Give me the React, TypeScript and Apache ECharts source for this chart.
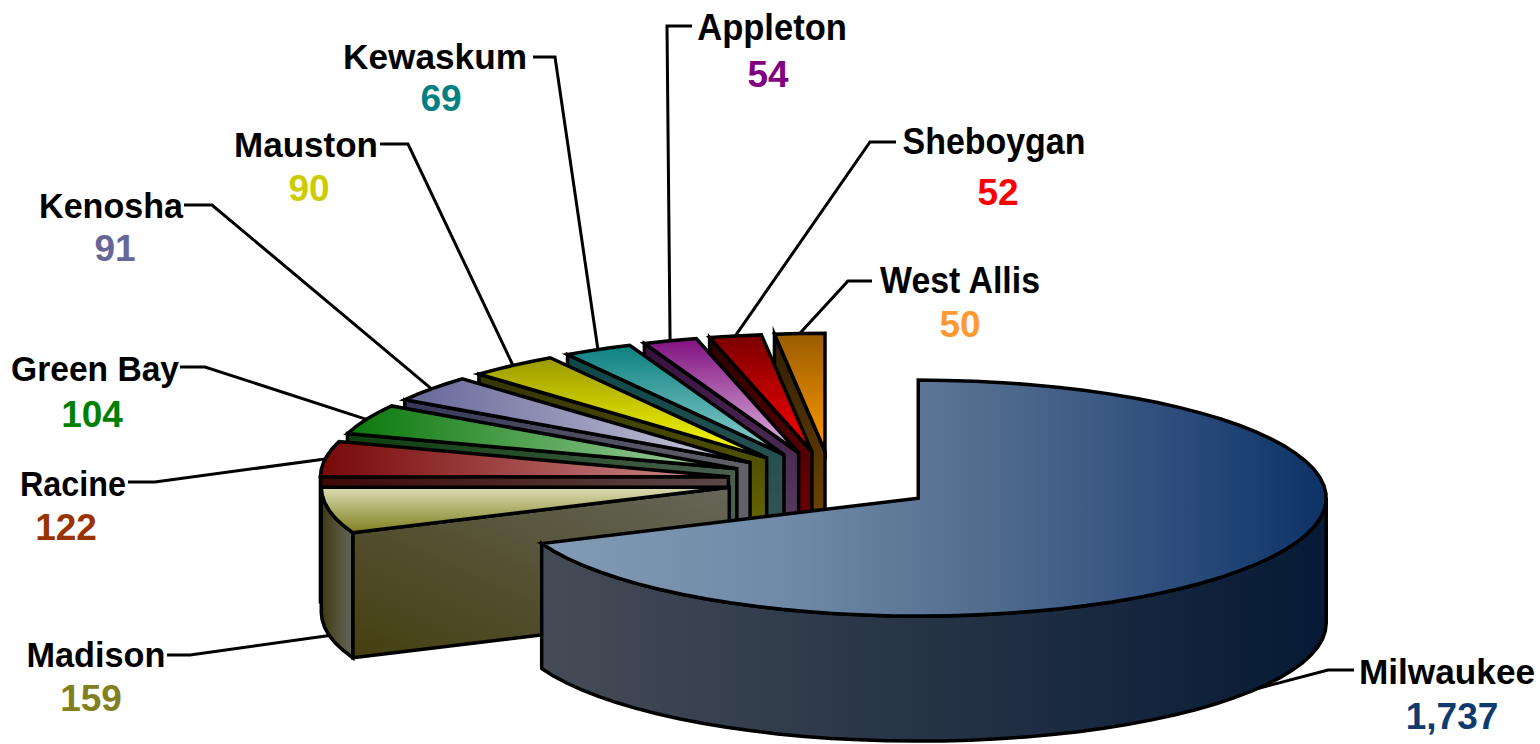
import React, { useEffect, useRef } from "react";
import * as echarts from "echarts";

// ---- data, clockwise from 12 o'clock ----
const categories = ["Milwaukee", "Madison", "Racine", "Green Bay", "Kenosha", "Mauston", "Kewaskum", "Appleton", "Sheboygan", "West Allis"];
const values = [1737, 159, 122, 104, 91, 90, 69, 54, 52, 50];
const valueLabels = ["1,737", "159", "122", "104", "91", "90", "69", "54", "52", "50"];

// ---- styles ----
const valueColors = ["#0f3a6e", "#808020", "#993300", "#008000", "#666699", "#cccc00", "#008080", "#800080", "#ff0000", "#ff9933"];
// [x0, y0, x1, y1, ...stops] for each top face
const topFills: any[] = [
  [0, 0, 1, 0, [0, "#839bb5"], [0.33, "#6e88a6"], [0.585, "#4f6a8c"], [0.84, "#27497a"], [1, "#0c3266"]],
  [0, 0, 0, 1, [0, "#dcdcb4"], [1, "#808020"]],
  [0, 0, 1, 0, [0, "#780808"], [1, "#d09090"]],
  [0, 0, 1, 0, [0, "#0a780a"], [1, "#a8d4a8"]],
  [0, 0, 1, 0, [0, "#666699"], [1, "#ccccdd"]],
  [0, 0, 0, 1, [0, "#999900"], [1, "#ffff00"]],
  [0, 0, 0, 1, [0, "#0c8080"], [1, "#8fd0d0"]],
  [0, 0, 0, 1, [0, "#801080"], [1, "#e0b8e0"]],
  [0, 0, 0, 1, [0, "#7a0000"], [1, "#ff0000"]],
  [0, 0, 0, 1, [0, "#995c00"], [1, "#ff9900"]],
];
const wallFills: any[] = [
  [0, 0, 1, 0, [0, "#454c56"], [1, "#061a35"]],
  [1, 0, 0, 1, [0, "#66665a"], [1, "#453f10"]],
  [0, 0, 1, 0, [0, "#400808"], [1, "#5c4848"]],
  [0, 0, 1, 0, [0, "#0c400f"], [1, "#4a6050"]],
  [0, 0, 1, 0, [0, "#38385c"], [1, "#626268"]],
  [0, 0, 0, 1, [0, "#333300"], [1, "#7a7a00"]],
  [0, 0, 0, 1, [0, "#0c4848"], [1, "#445858"]],
  [0, 0, 0, 1, [0, "#380f40"], [1, "#604a66"]],
  [0, 0, 0, 1, [0, "#2a0000"], [1, "#800000"]],
  [0, 0, 0, 1, [0, "#2e1e00"], [1, "#824f00"]],
];
const rimFills: any[] = [
  [0, 0, 1, 0, [0, "#454c56"], [1, "#061a35"]],
  [0, 0, 1, 0, [0, "#3f3a10"], [1, "#66665a"]],
];

// ---- layout ----
const pie = { cx: 831.5, cy: 481.4, rx: 408, ry: 118, depth: 125, explode: 0.2555 };
// name centre, value centre, leader start and elbow
const nameCentres = [[1447, 672], [96, 654], [73, 483], [95, 368], [111, 205], [306, 145], [435, 57], [772, 27], [994, 141], [960, 280]];
const nameScales = [0.978, 0.952, 0.898, 0.933, 0.947, 0.973, 0.978, 0.96, 0.943, 0.941];
const valueCentres = [[1452, 716], [91, 698], [66, 527], [92, 414], [115, 248], [309, 188], [441, 98], [768, 74], [998, 192], [960, 324]];
const leaderStarts = [[1354, 670], [167, 655], [128, 482], [180, 367], [184, 205], [380, 144], [533, 57], [692, 26], [896, 142], [872, 281]];
const leaderElbows = [[1328, 670], [190, 655], [155, 482], [205, 367], [212, 205], [408, 144], [555, 57], [667, 26], [870, 142], [848, 281]];

const total = values.reduce((a, b) => a + b, 0);
const toRad = (deg: number) => (deg * Math.PI) / 180;

function sliceGeometry(i: number) {
  const before = values.slice(0, i).reduce((a, b) => a + b, 0);
  const start = (before / total) * 360;
  const end = ((before + values[i]) / total) * 360;
  const mid = (start + end) / 2;
  const apex = [
    pie.cx + pie.explode * pie.rx * Math.sin(toRad(mid)),
    pie.cy - pie.explode * pie.ry * Math.cos(toRad(mid)),
  ];
  const at = (deg: number) => [apex[0] + pie.rx * Math.sin(toRad(deg)), apex[1] - pie.ry * Math.cos(toRad(deg))];
  return { start, end, mid, apex, at };
}

function arcPoints(at: (d: number) => number[], a: number, b: number) {
  const steps = Math.max(2, Math.ceil((b - a) / 4));
  const pts: number[][] = [];
  for (let k = 0; k <= steps; k++) pts.push(at(a + ((b - a) * k) / steps));
  return pts;
}

const grad = (f: any[]) =>
  new echarts.graphic.LinearGradient(
    f[0],
    f[1],
    f[2],
    f[3],
    f.slice(4).map((s: any[]) => ({ offset: s[0], color: s[1] }))
  );

const outline = { stroke: "#000", lineWidth: 3.5, lineJoin: "miter", miterLimit: 6 };
const down = (p: number[]) => [p[0], p[1] + pie.depth];

function renderSlice(params: any, api: any) {
  const i = api.value(0) as number;
  const g = sliceGeometry(i);
  const children: any[] = [];

  if (g.start > 180) {
    const o = g.at(g.start);
    children.push({
      type: "polygon",
      shape: { points: [o, g.apex, down(g.apex), down(o)] },
      style: { fill: grad(wallFills[i]), ...outline },
    });
  }
  const a = Math.max(g.start, 90);
  const b = Math.min(g.end, 270);
  if (b > a) {
    const rim = arcPoints(g.at, a, b);
    children.push({
      type: "polygon",
      shape: { points: [...rim, ...rim.map(down).reverse()] },
      style: { fill: grad(rimFills[i] || wallFills[i]), ...outline },
    });
  }
  children.push({
    type: "polygon",
    shape: { points: [g.apex, ...arcPoints(g.at, g.start, g.end)] },
    style: { fill: grad(topFills[i]), ...outline },
  });
  return { type: "group", children };
}

function renderLabel(params: any, api: any) {
  const i = api.value(0) as number;
  const g = sliceGeometry(i);
  const rimPoint = g.at(g.mid);
  const inFront = Math.cos(toRad(g.mid)) < 0;
  const tip = inFront ? down(rimPoint) : rimPoint;
  return {
    type: "group",
    children: [
      {
        type: "polyline",
        shape: { points: [leaderStarts[i], leaderElbows[i], tip] },
        style: { stroke: "#000", lineWidth: 3, fill: "none" },
      },
      {
        type: "text",
        x: nameCentres[i][0],
        y: nameCentres[i][1],
        scaleX: nameScales[i],
        style: {
          x: 0,
          y: 0,
          text: categories[i],
          fill: "#000",
          font: 'bold 36px "Liberation Sans"',
          textAlign: "center",
          textVerticalAlign: "middle",
        },
      },
      {
        type: "text",
        style: {
          x: valueCentres[i][0],
          y: valueCentres[i][1],
          text: valueLabels[i],
          fill: valueColors[i],
          font: 'bold 37px "Liberation Sans"',
          textAlign: "center",
          textVerticalAlign: "middle",
        },
      },
    ],
  };
}

export default function App() {
  const ref = useRef<HTMLDivElement>(null);
  useEffect(() => {
    const chart = echarts.init(ref.current!, undefined, { renderer: "svg" });
    // painted back to front: West Allis first, Milwaukee last
    const order = categories.map((_, i) => [categories.length - 1 - i]);
    chart.setOption({
      animation: false,
      backgroundColor: "#fff",
      series: [
        { type: "custom", coordinateSystem: "none", renderItem: renderSlice, data: order, silent: true, z: 2 },
        { type: "custom", coordinateSystem: "none", renderItem: renderLabel, data: order, silent: true, z: 3 },
      ],
    });
    return () => chart.dispose();
  }, []);
  return <div ref={ref} style={{ position: "fixed", left: 0, top: 0, width: 1540, height: 744 }} />;
}
